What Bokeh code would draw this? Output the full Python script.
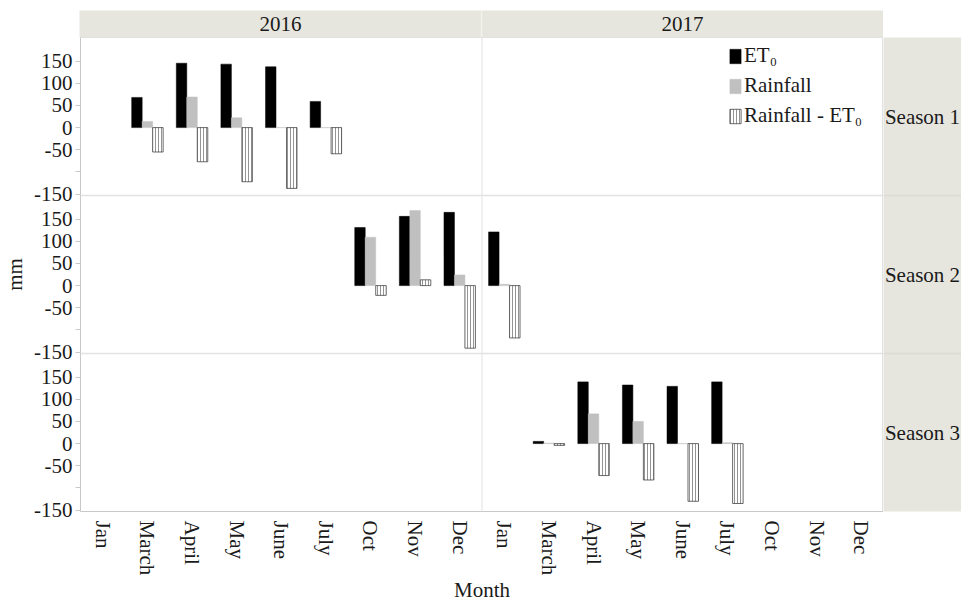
from bokeh.plotting import figure
from bokeh.layouts import column, row
from bokeh.models import ColumnDataSource, Range1d, FixedTicker, Span, Legend, LegendItem
from bokeh.transform import dodge
from bokeh.core.properties import value
from bokeh.embed import file_html
from bokeh.resources import INLINE

# ---------------- data ----------------
months = ["Jan", "March", "April", "May", "June", "July", "Oct", "Nov", "Dec"]
years = ["2016", "2017"]
seasons = ["Season 1", "Season 2", "Season 3"]
y_ticks = [-150, -100, -50, 0, 50, 100, 150]
y_tick_labels = ["-150", "", "-50", "0", "50", "100", "150"]

s1_year = ["2016", "2016", "2016", "2016", "2016"]
s1_month = ["March", "April", "May", "June", "July"]
s1_eto = [68, 145, 143, 137, 59]
s1_rain = [14, 69, 22, 0, 0]
s1_diff = [-55, -77, -122, -137, -59]

s2_year = ["2016", "2016", "2016", "2017"]
s2_month = ["Oct", "Nov", "Dec", "Jan"]
s2_eto = [131, 156, 165, 121]
s2_rain = [109, 169, 24, 3]
s2_diff = [-22, 13, -141, -118]

s3_year = ["2017", "2017", "2017", "2017", "2017"]
s3_month = ["March", "April", "May", "June", "July"]
s3_eto = [5, 139, 132, 129, 139]
s3_rain = [1, 67, 50, 0, 2]
s3_diff = [-4, -72, -82, -130, -135]

season_data = [
    (s1_year, s1_month, s1_eto, s1_rain, s1_diff),
    (s2_year, s2_month, s2_eto, s2_rain, s2_diff),
    (s3_year, s3_month, s3_eto, s3_rain, s3_diff),
]

# ---------------- style ----------------
FONT = "Liberation Serif"
FS = "21px"
TXT = "#1a1a1a"
STRIP = "#e6e6de"
LINE = "#e2e2e2"
AXIS = "#c8c8c8"
LEFT = 79
FRAME_W = 804
ROW_H = 159
STRIP_W = 78
BOTTOM = 91
TOP_PAD = 10
TOP_H = 27
BAR_W = 0.235
Y_LO, Y_HI = -153, 203

n_cat = len(years) * len(months)
n_rows = len(seasons)
R = Y_HI - Y_LO


def xpos(yr, mo):
    return years.index(yr) * len(months) + months.index(mo) + 0.5


# ---------------- top strip (year headers) ----------------
top = figure(width=LEFT + FRAME_W, height=TOP_PAD + TOP_H, output_backend="svg",
             toolbar_location=None, x_range=Range1d(0, n_cat), y_range=Range1d(0, 1),
             x_axis_location=None, y_axis_location=None,
             min_border_left=LEFT, min_border_right=0, min_border_top=TOP_PAD,
             min_border_bottom=0)
top.background_fill_color = STRIP
top.outline_line_color = None
top.xgrid.grid_line_color = None
top.ygrid.grid_line_color = None
ysrc = ColumnDataSource(dict(x=[(i + 0.5) * len(months) for i in range(len(years))],
                             y=[0.5] * len(years), t=years))
top.text(x="x", y="y", text="t", source=ysrc, text_align="center", text_baseline="middle",
         text_font=value(FONT), text_font_size=FS, text_color=TXT)
top.add_layout(Span(location=len(months), dimension="height", line_color="#f3f3ee", line_width=1.5))

# ---------------- main panel (three season rows) ----------------
mid = (n_rows - 1) / 2
main_range = Range1d(Y_LO - mid * R, Y_HI + mid * R)
p = figure(width=LEFT + FRAME_W, height=n_rows * ROW_H + BOTTOM, output_backend="svg",
           toolbar_location=None, x_range=Range1d(0, n_cat), y_range=main_range,
           min_border_left=LEFT, min_border_right=0, min_border_top=0, min_border_bottom=BOTTOM)
p.background_fill_color = "white"
p.outline_line_color = LINE
p.xgrid.grid_line_color = None
p.ygrid.grid_line_color = None

legend_renderers = None
for k, (yr_l, mo_l, eto, rain, diff) in enumerate(season_data):
    name = "season%d" % k
    p.extra_y_ranges[name] = Range1d(Y_LO - (n_rows - 1 - k) * R, Y_HI + k * R)
    src = ColumnDataSource(dict(x=[xpos(a, b) for a, b in zip(yr_l, mo_l)],
                                eto=eto, rain=rain, diff=diff))
    r1 = p.vbar(x=dodge("x", -BAR_W), top="eto", bottom=0, width=BAR_W, y_range_name=name,
                source=src, fill_color="black", line_color="black", line_width=0.5)
    r2 = p.vbar(x=dodge("x", 0), top="rain", bottom=0, width=BAR_W, y_range_name=name,
                source=src, fill_color="#c0c0c0", line_color="#c0c0c0", line_width=0.5)
    r3 = p.vbar(x=dodge("x", BAR_W), top="diff", bottom=0, width=BAR_W, y_range_name=name,
                source=src, fill_color="white", line_color="#444444", line_width=0.8,
                hatch_pattern="|", hatch_color="#666666", hatch_scale=3, hatch_weight=0.7)
    if k == 0:
        legend_renderers = (r1, r2, r3)
    if k < n_rows - 1:
        p.add_layout(Span(location=Y_LO, dimension="width", y_range_name=name,
                          line_color=LINE, line_width=1.5))

p.add_layout(Span(location=len(months), dimension="height", line_color=LINE, line_width=1))

# y axis: the same tick set repeated for every season row
tick_pos = []
overrides = {}
for k in range(n_rows):
    off = int(round((mid - k) * R))
    for v, lab in zip(y_ticks, y_tick_labels):
        tick_pos.append(v + off)
        overrides[v + off] = lab

ax = p.yaxis[0]
ax.ticker = FixedTicker(ticks=tick_pos)
ax.major_label_overrides = overrides
ax.minor_tick_line_color = None
ax.axis_line_color = AXIS
ax.major_tick_line_color = AXIS
ax.major_tick_out = 5
ax.major_tick_in = 0
ax.major_label_standoff = 3
ax.major_label_text_font = FONT
ax.major_label_text_font_size = FS
ax.major_label_text_color = TXT
ax.axis_label = "mm"
ax.axis_label_standoff = 4
ax.axis_label_text_font = FONT
ax.axis_label_text_font_size = FS
ax.axis_label_text_font_style = "normal"
ax.axis_label_text_color = TXT

xa = p.xaxis[0]
xa.ticker = FixedTicker(ticks=[i + 0.5 for i in range(n_cat)])
xa.major_label_overrides = {i + 0.5: months[i % len(months)] for i in range(n_cat)}
xa.major_label_orientation = "vertical"
xa.major_tick_line_color = None
xa.minor_tick_line_color = None
xa.axis_line_color = AXIS
xa.major_label_standoff = 3
xa.major_label_text_font = FONT
xa.major_label_text_font_size = FS
xa.major_label_text_color = TXT
xa.axis_label = "Month"
xa.axis_label_standoff = 0
xa.axis_label_text_font = FONT
xa.axis_label_text_font_size = FS
xa.axis_label_text_font_style = "normal"
xa.axis_label_text_color = TXT

r1, r2, r3 = legend_renderers
leg = Legend(items=[LegendItem(label="ET₀", renderers=[r1]),
                    LegendItem(label="Rainfall", renderers=[r2]),
                    LegendItem(label="Rainfall - ET₀", renderers=[r3])],
             location=(648, 383))
leg.label_text_font = FONT
leg.label_text_font_size = FS
leg.label_text_color = TXT
leg.glyph_width = 14
leg.glyph_height = 18
leg.label_standoff = 2
leg.spacing = 5
leg.padding = 8
leg.margin = 0
leg.border_line_color = None
leg.background_fill_alpha = 0
p.add_layout(leg)

# ---------------- right strip (season labels) ----------------
s = figure(width=STRIP_W, height=n_rows * ROW_H + BOTTOM, output_backend="svg",
           toolbar_location=None, x_range=Range1d(0, 1), y_range=Range1d(0, n_rows),
           x_axis_location=None, y_axis_location=None,
           min_border_left=0, min_border_right=0, min_border_top=0, min_border_bottom=BOTTOM)
s.background_fill_color = STRIP
s.border_fill_color = "white"
s.outline_line_color = None
s.xgrid.grid_line_color = None
s.ygrid.grid_line_color = None
for k in range(1, n_rows):
    s.add_layout(Span(location=k, dimension="width", line_color="#dcdcd4", line_width=1.5))
ssrc = ColumnDataSource(dict(x=[0.5] * n_rows, y=[n_rows - k - 0.5 for k in range(n_rows)],
                             t=seasons))
s.text(x="x", y="y", text="t", source=ssrc, text_align="center", text_baseline="middle",
       text_font=value(FONT), text_font_size=FS, text_color=TXT)

layout = column(top, row(p, s))
open("out.html", "w").write(file_html(layout, INLINE))
